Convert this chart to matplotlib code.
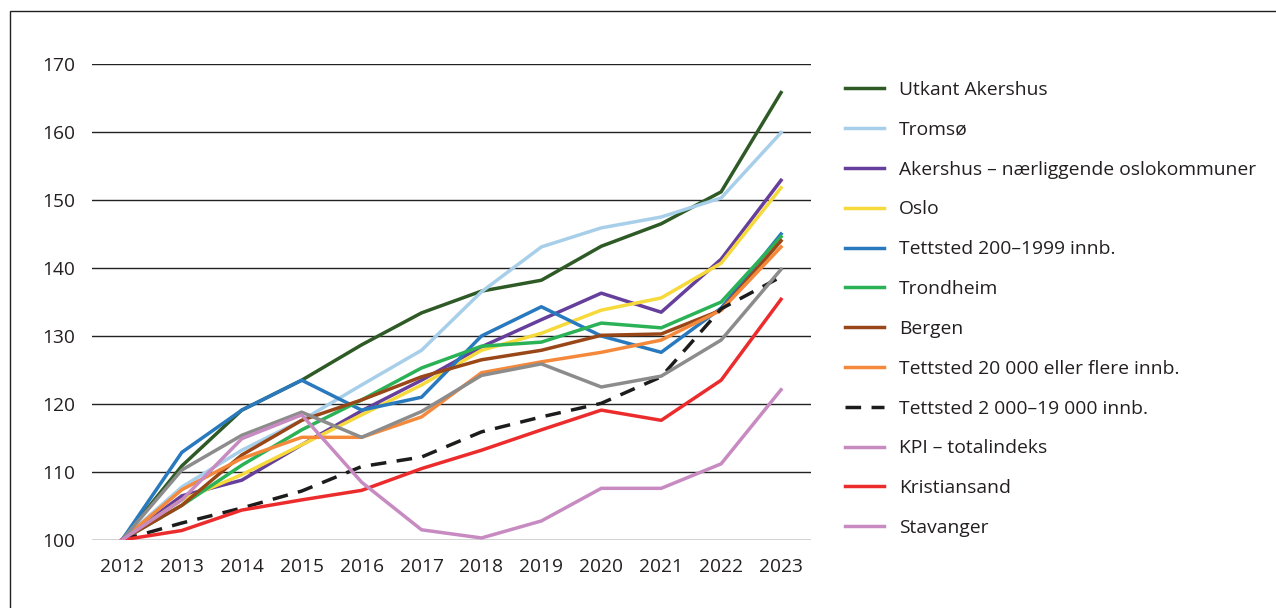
import matplotlib
matplotlib.use("Agg")
import matplotlib.pyplot as plt
from matplotlib.patches import Rectangle

plt.rcParams['font.family'] = ['Open Sans', 'DejaVu Sans']

years = list(range(2012, 2024))

utkant_akershus = [100, 110.9, 119.1, 123.5, 128.7, 133.4, 136.6, 138.2, 143.2, 146.5, 151.2, 165.8]
tromso = [100, 107.8, 113.2, 117.6, 122.8, 127.9, 136.5, 143.1, 145.9, 147.5, 150.3, 159.9]
akershus_naer = [100, 106.5, 108.8, 114.0, 119.0, 123.5, 128.4, 132.4, 136.3, 133.5, 141.3, 152.9]
oslo = [100, 105.9, 109.6, 114.0, 118.4, 122.8, 127.9, 130.4, 133.8, 135.6, 140.7, 151.8]
tettsted_200 = [100, 112.9, 119.1, 123.5, 119.1, 121.0, 130.0, 134.3, 130.0, 127.6, 134.1, 145.0]
trondheim = [100, 105.1, 111.0, 116.2, 120.6, 125.3, 128.5, 129.1, 131.9, 131.2, 135.0, 144.6]
bergen = [100, 105.1, 112.5, 117.6, 120.6, 124.0, 126.5, 127.9, 130.1, 130.3, 133.8, 144.0]
tettsted_20000 = [100, 107.4, 112.0, 115.1, 115.1, 118.1, 124.6, 126.2, 127.6, 129.4, 133.8, 143.1]
tettsted_2000 = [100, 102.5, 104.7, 107.2, 110.8, 112.2, 115.9, 118.1, 120.1, 124.0, 134.0, 138.7]
kpi = [100, 110.3, 115.4, 118.8, 115.1, 118.9, 124.2, 125.9, 122.5, 124.1, 129.4, 139.8]
kristiansand = [100, 101.4, 104.4, 105.9, 107.3, 110.5, 113.2, 116.2, 119.1, 117.6, 123.5, 135.4]
stavanger = [100, 105.9, 114.9, 118.4, 108.5, 101.5, 100.3, 102.8, 107.6, 107.6, 111.2, 122.1]

series = [
    ("Utkant Akershus", utkant_akershus, "#2e5a26", "-"),
    ("Tromsø", tromso, "#a8cfe9", "-"),
    ("Akershus – nærliggende oslokommuner", akershus_naer, "#663f9c", "-"),
    ("Oslo", oslo, "#f6d93a", "-"),
    ("Tettsted 200–1999 innb.", tettsted_200, "#2879bd", "-"),
    ("Trondheim", trondheim, "#2bb257", "-"),
    ("Bergen", bergen, "#994718", "-"),
    ("Tettsted 20 000 eller flere innb.", tettsted_20000, "#f5893b", "-"),
    ("Tettsted 2 000–19 000 innb.", tettsted_2000, "#1c1c1c", "--"),
    ("KPI – totalindeks", kpi, "#8c8c8c", "-"),
    ("Kristiansand", kristiansand, "#ec2c2c", "-"),
    ("Stavanger", stavanger, "#c78bc2", "-"),
]

fig = plt.figure(figsize=(12.76, 6.08), dpi=100)
ax = fig.add_axes([92 / 1276, 1 - 540 / 608, (811 - 92) / 1276, (540 - 64) / 608])

for name, vals, color, ls in series:
    if ls == "--":
        ax.plot(years, vals, color=color, linewidth=2.5, linestyle=(0, (4.5, 3)), label=name)
    else:
        ax.plot(years, vals, color=color, linewidth=2.5, label=name)

ax.set_xlim(2011.5, 2023.5)
ax.set_ylim(100, 170)
ax.set_yticks(range(100, 171, 10))
ax.set_xticks(years)
ax.yaxis.grid(True, color="#222222", linewidth=1.0)
ax.set_axisbelow(True)
for s in ax.spines.values():
    s.set_visible(False)
ax.tick_params(axis="both", length=0, labelsize=13.8, colors="#231f20")
ax.tick_params(axis="y", pad=12)
ax.tick_params(axis="x", pad=13)

leg = ax.legend(loc="upper left", bbox_to_anchor=(845 / 1276, 1 - 81 / 608),
                bbox_transform=fig.transFigure, frameon=False, fontsize=13.9,
                handlelength=2.0, handletextpad=0.8, labelspacing=1.13,
                borderpad=0, borderaxespad=0)
for t in leg.get_texts():
    t.set_color("#231f20")
# KPI shown in the legend with the light purple key
leg.get_lines()[9].set_color("#c78bc2")

# frame around the figure
fig.patches.append(Rectangle((10 / 1276, -0.05), 1.2, 1 - 11 / 608 + 0.05,
                             transform=fig.transFigure, fill=False,
                             edgecolor="#231f20", linewidth=1.0))

fig.savefig("out.png", dpi=100)
